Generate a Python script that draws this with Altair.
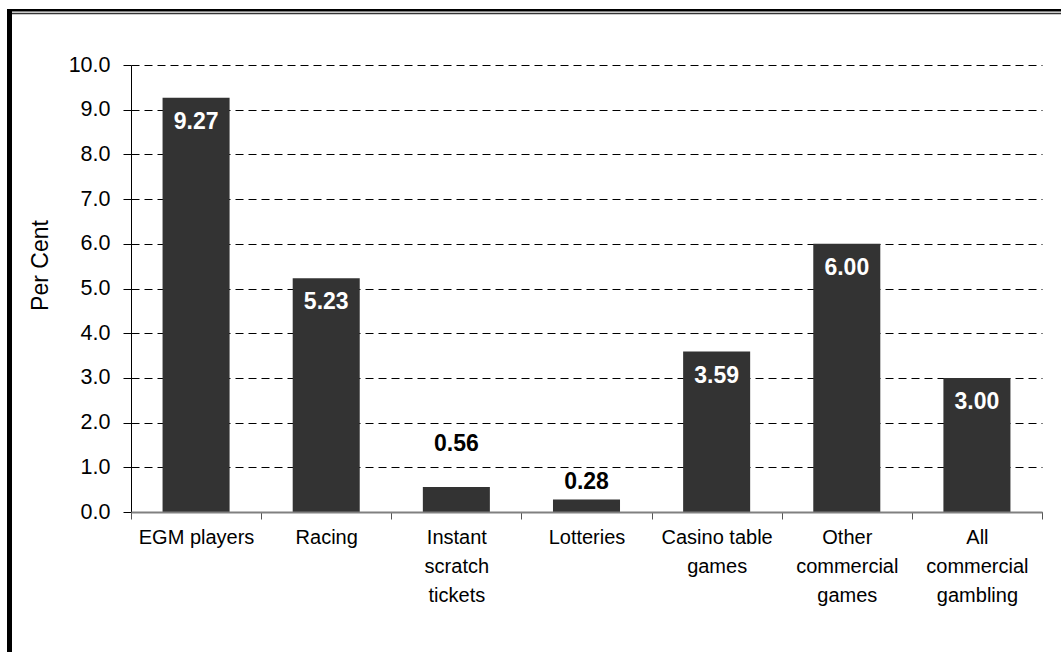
import altair as alt
import pandas as pd

categories = ["EGM players", "Racing", "Instant|scratch|tickets", "Lotteries",
              "Casino table|games", "Other|commercial|games", "All|commercial|gambling"]
values = [9.27, 5.23, 0.56, 0.28, 3.59, 6.00, 3.00]
y_ticks = [0, 1, 2, 3, 4, 5, 6, 7, 8, 9, 10]

df = pd.DataFrame({"cat": categories, "val": values})
df["lbl"] = [f"{v:.2f}" for v in values]

FONT = "Liberation Sans"
W, H = 911, 447

x_enc = alt.X("cat:N", sort=categories, title=None,
              scale=alt.Scale(paddingInner=0, paddingOuter=0),
              axis=alt.Axis(labelAngle=0, labelExpr="split(datum.label, '|')",
                            labelFont=FONT, labelFontSize=20, labelColor="#000",
                            labelLineHeight=29, labelPadding=8, labelBaseline="top",
                            tickBand="extent", tickSize=7, tickColor="#555",
                            domainColor="#808080", domainWidth=2, zindex=1,
                            labelOverlap=False, labelLimit=300))
y_enc = alt.Y("val:Q", title="Per Cent",
              scale=alt.Scale(domain=[0, 10], nice=False),
              axis=alt.Axis(values=y_ticks, format=".1f", labelFont=FONT,
                            labelFontSize=21.5, labelColor="#000", labelPadding=13,
                            tickSize=8, tickColor="#000", domainColor="#000",
                            grid=True, gridColor="#000", gridDash=[8, 5],
                            gridWidth=1, titleFont=FONT, titleFontSize=23,
                            titleFontWeight="normal", titleColor="#000",
                            titleAngle=270, titleX=-91, titleY=200,
                            titleAlign="center", titleBaseline="middle", zindex=0))

base = alt.Chart(df)
bars = base.mark_bar(color="#333333", width=alt.RelativeBandSize(0.515)).encode(x=x_enc, y=y_enc)

inside = base.transform_filter("datum.val >= 1").mark_text(
    font=FONT, fontSize=23, fontWeight="bold", color="white", baseline="middle", dy=24
).encode(x=alt.X("cat:N", sort=categories), y="val:Q", text="lbl:N")

out1 = base.transform_filter("datum.val < 1 && datum.val > 0.4").mark_text(
    font=FONT, fontSize=23, fontWeight="bold", color="black", baseline="middle", dy=-43
).encode(x=alt.X("cat:N", sort=categories), y="val:Q", text="lbl:N")

out2 = base.transform_filter("datum.val <= 0.4").mark_text(
    font=FONT, fontSize=23, fontWeight="bold", color="black", baseline="middle", dy=-17
).encode(x=alt.X("cat:N", sort=categories), y="val:Q", text="lbl:N")

one = alt.Chart(alt.Data(values=[{}]))
left_border = one.mark_rule(color="black", strokeWidth=5).encode(
    x=alt.value(-121.5), y=alt.value(-56), y2=alt.value(600))
top_outer = one.mark_rule(color="black", strokeWidth=2.5).encode(
    x=alt.value(-124), x2=alt.value(940), y=alt.value(-54.8))
top_inner = one.mark_rule(color="#333", strokeWidth=1.5).encode(
    x=alt.value(-119), x2=alt.value(940), y=alt.value(-51.5))

chart = alt.layer(bars, inside, out1, out2, left_border, top_outer, top_inner).properties(
    width=W, height=H,
    autosize=alt.AutoSizeParams(type="none"),
    padding={"left": 131, "top": 65, "right": 19, "bottom": 140},
    background="white",
).configure_view(stroke=None)

chart.save("out.html", embed_options={"renderer": "svg", "actions": False})
